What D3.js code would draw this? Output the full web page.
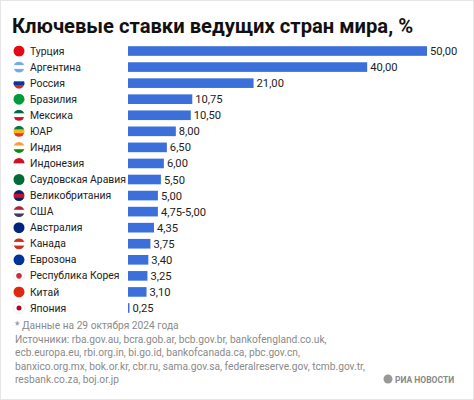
<!DOCTYPE html>
<html><head><meta charset="utf-8">
<script src="https://cdn.jsdelivr.net/npm/d3@7"></script>
<style>body{margin:0;background:#fff;font-family:Roboto,"Noto Sans",sans-serif}</style>
</head><body><svg id="c" width="474" height="400"></svg>
<script>
const countries = ["Турция","Аргентина","Россия","Бразилия","Мексика","ЮАР","Индия","Индонезия","Саудовская Аравия","Великобритания","США","Австралия","Канада","Еврозона","Республика Корея","Китай","Япония"];
const rates = [50, 40, 21, 10.75, 10.5, 8, 6.5, 6, 5.5, 5, 5, 4.35, 3.75, 3.4, 3.25, 3.1, 0.25];
const rateLabels = ["50,00","40,00","21,00","10,75","10,50","8,00","6,50","6,00","5,50","5,00","4,75-5,00","4,35","3,75","3,40","3,25","3,10","0,25"];
const flagStripes = [["#e30a17"],["#74acdf","#fff","#74acdf"],["#fff","#0039a6","#d52b1e"],["#009c3b"],["#006847","#fff","#ce1126"],["#007a4d","#ffb612","#de3831"],["#ff9933","#fff","#138808"],["#ce1126","#fff"],["#006c35"],["#012169","#c8102e","#012169"],["#b22234","#fff","#3c3b6e"],["#00247d"],["#d52b1e","#fff","#d52b1e"],["#003399"],["#fff","#fff"],["#de2910"],["#fff"]];

const svg = d3.select("#c");
svg.append("rect").attr("x",0.5).attr("y",0.5).attr("width",473).attr("height",399).attr("fill","#fff").attr("stroke","#e6e6e6");
svg.append("text").attr("x",12).attr("y",33).attr("font-size",20.2).attr("font-weight",700).attr("fill","#111")
  .text("Ключевые ставки ведущих стран мира, %");

const x = d3.scaleLinear().domain([0,50]).range([128,427]);
const y = d3.scaleBand().domain(countries).range([46.2,312.8]).paddingInner(0.4);

const rows = svg.selectAll("g.row").data(countries).join("g").attr("class","row")
  .attr("transform", d=>`translate(0,${y(d)})`);
const bh = y.bandwidth(), cy = bh/2;

rows.each(function(d,i){
  const g = d3.select(this);
  const cp = "cp"+i;
  g.append("clipPath").attr("id",cp).append("circle").attr("cx",19).attr("cy",cy).attr("r",5.5);
  const st = flagStripes[i], h = 11/st.length;
  st.forEach((c,k)=>g.append("rect").attr("clip-path",`url(#${cp})`).attr("x",13).attr("y",cy-5.5+k*h).attr("width",12).attr("height",h+0.3).attr("fill",c));
  if (i===16 || i===14) g.append("circle").attr("cx",19).attr("cy",cy).attr("r",i===16?2.5:2.8).attr("fill",i===16?"#bc002d":"#cd2e3a");
  if (i===16 || i===14) g.append("circle").attr("cx",19).attr("cy",cy).attr("r",5.5).attr("fill","none").attr("stroke","#ddd").attr("stroke-width",0.5);
});

rows.append("text").attr("x",30).attr("y",cy+3.6).attr("font-size",10.4).attr("fill","#222").text(d=>d);
rows.append("rect").attr("x",x(0)).attr("y",0).attr("height",bh)
  .attr("width",(d,i)=>x(rates[i])-x(0)).attr("fill","#3d6fdb");
rows.append("text").attr("x",(d,i)=>x(rates[i])+3).attr("y",cy+4).attr("font-size",11.2).attr("fill","#222")
  .text((d,i)=>rateLabels[i]);

const foot = ["* Данные на 29 октября 2024 года","Источники: rba.gov.au, bcra.gob.ar, bcb.gov.br, bankofengland.co.uk,","ecb.europa.eu, rbi.org.in, bi.go.id, bankofcanada.ca, pbc.gov.cn,","banxico.org.mx, bok.or.kr, cbr.ru, sama.gov.sa, federalreserve.gov, tcmb.gov.tr,","resbank.co.za, boj.or.jp"];
svg.selectAll("text.f").data(foot).join("text").attr("class","f").attr("x",15).attr("y",(d,i)=>329+i*13.6)
  .attr("font-size",10.2).attr("fill","#8a8a8a").text(d=>d);
svg.append("circle").attr("cx",388).attr("cy",379).attr("r",4.5).attr("fill","#999");
svg.append("text").attr("x",395).attr("y",382.5).attr("font-size",8.5).attr("font-weight",700).attr("fill","#888").text("РИА НОВОСТИ");
</script></body></html>
